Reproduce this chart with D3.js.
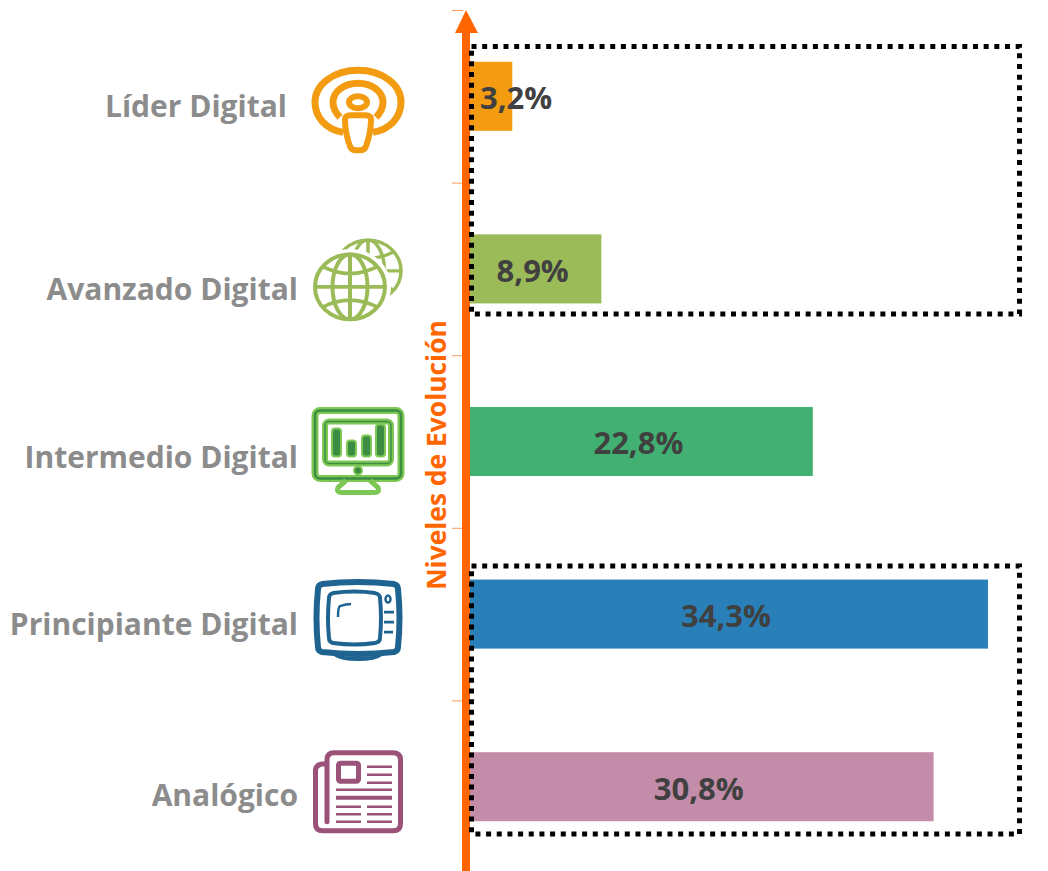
<!DOCTYPE html>
<html>
<head>
<meta charset="utf-8">
<script src="https://cdn.jsdelivr.net/npm/d3@7"></script>
<style>
  html, body { margin: 0; background: #fff; }
  text { font-family: "Open Sans", sans-serif; }
</style>
</head>
<body>
<script>
// top to bottom
var categories = ["Líder Digital", "Avanzado Digital", "Intermedio Digital", "Principiante Digital", "Analógico"];
// bar lengths as drawn in the picture (the first ones run a bit short of their printed label)
var values = [2.8, 8.7, 22.7, 34.3, 30.7];
var valueLabels = ["3,2%", "8,9%", "22,8%", "34,3%", "30,8%"];
var colors = ["#F39C12", "#9BBB59", "#41B072", "#2980B9", "#C38DA9"];
var axisTitle = "Niveles de Evolución";

var width = 1048, height = 871;

var svg = d3.select("body").append("svg")
  .attr("width", width)
  .attr("height", height)
  .style("display", "block");

var x = d3.scaleLinear().domain([0, 34.3]).range([470, 988]);
var y = d3.scaleBand().domain(categories).range([10, 873]).paddingInner(0.6).paddingOuter(0.3);
var tickScale = d3.scaleLinear().domain([0, 5]).range([10, 873]);

// bars
svg.selectAll("rect.bar")
  .data(categories)
  .enter().append("rect")
  .attr("class", "bar")
  .attr("x", x(0))
  .attr("y", function(d) { return y(d); })
  .attr("width", function(d, i) { return x(values[i]) - x(0); })
  .attr("height", y.bandwidth())
  .attr("fill", function(d, i) { return colors[i]; });

// axis: thin ticks, then the thick arrow on top
var axis = svg.append("g")
  .attr("transform", "translate(463,0)")
  .call(d3.axisLeft(tickScale).ticks(5).tickSize(11).tickFormat(""));
axis.select(".domain").remove();
axis.selectAll("line").attr("stroke", "#FF9A5C").attr("stroke-width", 1);

svg.append("line")
  .attr("x1", 466).attr("x2", 466)
  .attr("y1", 28).attr("y2", height)
  .attr("stroke", "#FF6600")
  .attr("stroke-width", 8);
svg.append("path")
  .attr("d", "M466,10L478,33H455Z")
  .attr("fill", "#FF6600");

// dotted frames around the digital leaders and the beginners
var frames = [
  [categories[0], categories[1]],
  [categories[3], categories[4]]
];
var frameBox = [[46.5, 314], [566, 834]];
svg.selectAll("rect.frame")
  .data(frames)
  .enter().append("rect")
  .attr("class", "frame")
  .attr("x", 471.5)
  .attr("y", function(d, i) { return frameBox[i][0]; })
  .attr("width", 548)
  .attr("height", function(d, i) { return frameBox[i][1] - frameBox[i][0]; })
  .attr("fill", "none")
  .attr("stroke", "#000")
  .attr("stroke-width", 5)
  .attr("stroke-dasharray", "5 5.67");

// value labels
svg.selectAll("text.value")
  .data(categories)
  .enter().append("text")
  .attr("class", "value")
  .attr("x", function(d, i) { return (x(0) + x(values[i])) / 2 + (i == 0 ? 25 : -3); })
  .attr("y", function(d) { return y(d) + y.bandwidth() / 2 + 2; })
  .attr("dy", "0.35em")
  .attr("text-anchor", "middle")
  .attr("font-size", 31)
  .attr("font-weight", 700)
  .attr("fill", "#404040")
  .text(function(d, i) { return valueLabels[i]; });

// category labels
var labelEnd = [287, 298, 298, 298, 298];
var labelBase = [117, 300, 468, 635, 806];
svg.selectAll("text.cat")
  .data(categories)
  .enter().append("text")
  .attr("class", "cat")
  .attr("x", function(d, i) { return labelEnd[i]; })
  .attr("y", function(d, i) { return labelBase[i]; })
  .attr("text-anchor", "end")
  .attr("font-size", 30)
  .attr("font-weight", 700)
  .attr("fill", "#8C8C8C")
  .text(function(d) { return d; });

// axis title
svg.append("text")
  .attr("transform", "translate(446,455) rotate(-90)")
  .attr("text-anchor", "middle")
  .attr("font-size", 26.4)
  .attr("font-weight", 700)
  .attr("fill", "#FF6600")
  .text(axisTitle);

// icons, one per level
function bars(g, list, color) {
  list.forEach(function(b) {
    g.append("rect").attr("x", b[0]).attr("y", b[1]).attr("width", b[2]).attr("height", b[3]).attr("rx", b[4] || 0).attr("fill", color);
  });
}

function podcastIcon(g) {
  var c = "#F39C12";
  var s = g.append("g").attr("fill", "none").attr("stroke", c).attr("stroke-width", 7).attr("stroke-linecap", "butt");
  s.append("path").attr("d", "M-15,30C-32,27 -43,15 -43,0C-43,-18 -24,-32 0,-32C24,-32 43,-18 43,0C43,15 32,27 15,30");
  s.append("path").attr("d", "M-18,15C-22,11 -25,6 -25,0C-25,-11 -14,-19 0,-19C14,-19 25,-11 25,0C25,6 22,11 18,15");
  s.append("ellipse").attr("cx", 0).attr("cy", 0).attr("rx", 9).attr("ry", 6).attr("stroke-width", 6);
  s.append("path").attr("d", "M-13,17C-13,14 -10,13 -7,13H7C10,13 13,14 13,17C13,27 11,36 8,44C7,47 5,48 2,48H-2C-5,48 -7,47 -8,44C-11,36 -13,27 -13,17Z").attr("fill", "#fff").attr("stroke-width", 6);
}

function globe(g, cx, cy, r, sw, c) {
  var s = g.append("g").attr("transform", "translate(" + cx + "," + cy + ") scale(1,0.93)").attr("fill", "#fff").attr("stroke", c).attr("stroke-width", sw);
  s.append("circle").attr("r", r);
  s.append("ellipse").attr("rx", r * 0.5).attr("ry", r).attr("fill", "none");
  s.append("path").attr("fill", "none").attr("d",
    "M0," + (-r) + "V" + r + "M" + (-r) + ",0H" + r +
    "M" + (-r * 0.78) + "," + (-r * 0.62) + "Q0," + (-r * 0.2) + " " + (r * 0.78) + "," + (-r * 0.62) +
    "M" + (-r * 0.78) + "," + (r * 0.62) + "Q0," + (r * 0.2) + " " + (r * 0.78) + "," + (r * 0.62));
}

function globeIcon(g) {
  var c = "#9BBB59";
  globe(g, 18, -16, 33, 3.5, c);
  g.append("ellipse").attr("cx", 0).attr("cy", 0).attr("rx", 41).attr("ry", 38).attr("fill", "#fff");
  globe(g, 0, 0, 35, 4, c);
}

function monitorIcon(g) {
  var light = "#7DC855", dark = "#3C8C44";
  var s = g.append("g").attr("fill", "none");
  function both(make, w) {
    make(s).attr("stroke", light).attr("stroke-width", w + 2.5);
    make(s).attr("stroke", dark).attr("stroke-width", w - 2);
  }
  both(function(p) { return p.append("rect").attr("x", -43).attr("y", -36).attr("width", 86).attr("height", 68).attr("rx", 5); }, 4.5);
  both(function(p) { return p.append("rect").attr("x", -33).attr("y", -25).attr("width", 66).attr("height", 42).attr("rx", 4); }, 3.5);
  s.append("path").attr("d", "M-12,34L-20,41Q-22,46 -17,46H17Q22,46 20,41L12,34").attr("stroke", light).attr("stroke-width", 5);
  s.append("circle").attr("cx", 0).attr("cy", 24).attr("r", 4).attr("fill", dark).attr("stroke", light).attr("stroke-width", 2);
  bars(s, [[-26, -18, 9, 28, 3], [-11, -6, 9, 16, 3], [4, -11, 9, 21, 3], [18, -22, 9, 32, 3]], dark);
  s.selectAll("rect").filter(function() { return +d3.select(this).attr("width") == 9; })
    .attr("stroke", light).attr("stroke-width", 2);
}

function tvIcon(g) {
  var c = "#1F6391";
  var s = g.append("g").attr("fill", "none").attr("stroke", c);
  s.append("path").attr("stroke-width", 6).attr("d", "M-36,-34Q0,-38 36,-34Q40,-33 40,-29Q43,0 40,29Q40,33 36,34Q0,38 -36,34Q-40,33 -40,29Q-43,0 -40,-29Q-40,-33 -36,-34Z");
  s.append("path").attr("stroke-width", 4).attr("d", "M-25,-25Q-3,-28 17,-25Q22,-24 22,-20Q24,0 22,20Q22,24 17,25Q-3,28 -25,25Q-29,24 -29,20Q-31,0 -29,-20Q-29,-24 -25,-25Z");
  s.append("path").attr("stroke-width", 2.5).attr("d", "M-20,-1Q-20,-11 -18,-12Q-12,-14 -7,-14");
  s.append("ellipse").attr("cx", 30).attr("cy", -19).attr("rx", 2.5).attr("ry", 3.5).attr("stroke-width", 2.5);
  s.append("path").attr("stroke-width", 2.8).attr("d", "M26,-6H36M26,4H36M26,14H35");
  g.append("path").attr("fill", c).attr("d", "M-24,37Q0,40 24,37V38Q18,43 0,43Q-18,43 -24,38Z");
}

function newsIcon(g) {
  var c = "#9B5278";
  var s = g.append("g").attr("fill", "none").attr("stroke", c).attr("stroke-width", 5).attr("stroke-linecap", "round");
  s.append("path").attr("d", "M-31,30V-32Q-31,-39 -24,-39H35Q42.5,-39 42.5,-32V32Q42.5,39 35,39H-35Q-42.5,39 -42.5,32V-21Q-42.5,-28 -33,-28");
  s.append("rect").attr("x", -19.5).attr("y", -28.5).attr("width", 20).attr("height", 18).attr("rx", 2).attr("stroke-width", 5);
  s.append("path").attr("stroke-width", 2.5).attr("stroke-linecap", "butt").attr("d", "M9,-25H34M9,-17H34M9,-9H34M-22,-2H34M-22,15H3M9,15H34M-22,22.5H3M9,22.5H34M-22,30H3M9,30H34");
  s.append("path").attr("stroke-width", 4).attr("stroke-linecap", "butt").attr("d", "M-22,6H34");
}

var iconMakers = [podcastIcon, globeIcon, monitorIcon, tvIcon, newsIcon];
var iconX = [358, 350, 358, 358, 358];
var iconDy = [6, 18, 5, 4, 5];
svg.selectAll("g.icon")
  .data(categories)
  .enter().append("g")
  .attr("class", "icon")
  .attr("transform", function(d, i) { return "translate(" + iconX[i] + "," + (y(d) + y.bandwidth() / 2 + iconDy[i]) + ")"; })
  .each(function(d, i) { iconMakers[i](d3.select(this)); });
</script>
</body>
</html>
